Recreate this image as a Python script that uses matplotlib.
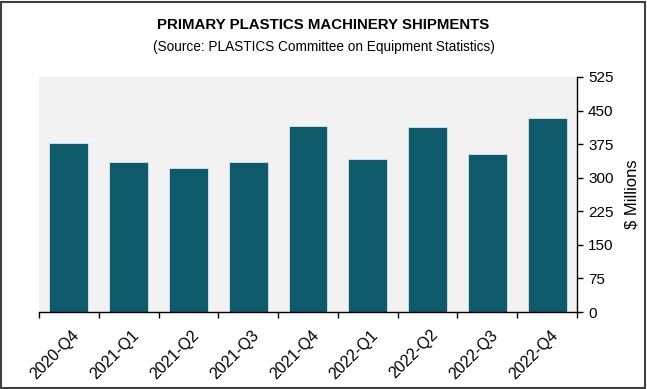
import numpy as np
import matplotlib.pyplot as plt
from matplotlib.patches import Rectangle

plt.rcParams['font.family'] = ['Liberation Sans', 'DejaVu Sans']

# --- data ---
quarters = ['2020-Q4', '2021-Q1', '2021-Q2', '2021-Q3', '2021-Q4',
            '2022-Q1', '2022-Q2', '2022-Q3', '2022-Q4']
shipments = [377, 334, 322, 334, 415, 341, 414, 353, 434]
yticks = [0, 75, 150, 225, 300, 375, 450, 525]

bar_color = '#0E5A6B'
bg_color = '#F2F2F2'

fig = plt.figure(figsize=(6.47, 3.89), dpi=100)
ax = fig.add_axes([39 / 647, 1 - 312 / 389, (577 - 39) / 647, (312 - 77) / 389])
ax.set_facecolor(bg_color)

x = np.arange(len(quarters))
ax.bar(x, shipments, width=0.65, color=bar_color, edgecolor='#D8E6EA', linewidth=0.6)

ax.set_xlim(-0.5, len(quarters) - 0.5)
ax.set_ylim(0, 525)

# y axis on the right
ax.yaxis.tick_right()
ax.yaxis.set_label_position('right')
ax.set_yticks(yticks)
ax.tick_params(axis='y', direction='out', length=4, width=1, labelsize=11, pad=4)
ax.set_ylabel('$ Millions', fontsize=12, labelpad=8)

# x ticks at category boundaries, labels centred under bars
ax.set_xticks(np.arange(-0.5, len(quarters), 1.0))
ax.set_xticklabels([])
ax.set_xticks(x + 0.05, minor=True)
ax.set_xticklabels(quarters, minor=True, rotation=45, ha='right',
                   rotation_mode='anchor', fontsize=11.5)
ax.tick_params(axis='x', which='major', direction='out', length=4, width=1)
ax.tick_params(axis='x', which='minor', length=0, pad=11)

for side in ['top', 'left']:
    ax.spines[side].set_visible(False)
ax.spines['bottom'].set_linewidth(1)
ax.spines['right'].set_linewidth(1)

fig.text(0.5, 1 - 25 / 389, 'PRIMARY PLASTICS MACHINERY SHIPMENTS',
         ha='center', va='center', fontsize=10.8, fontweight='bold')
fig.text(0.5, 1 - 47 / 389, '(Source: PLASTICS Committee on Equipment Statistics)',
         ha='center', va='center', fontsize=9.8)

# outer frame
fig.patches.append(Rectangle((0.002, 0.003), 0.995, 0.993, transform=fig.transFigure,
                             fill=False, edgecolor='#404040', linewidth=1.5))

fig.savefig('out.png', dpi=100)
